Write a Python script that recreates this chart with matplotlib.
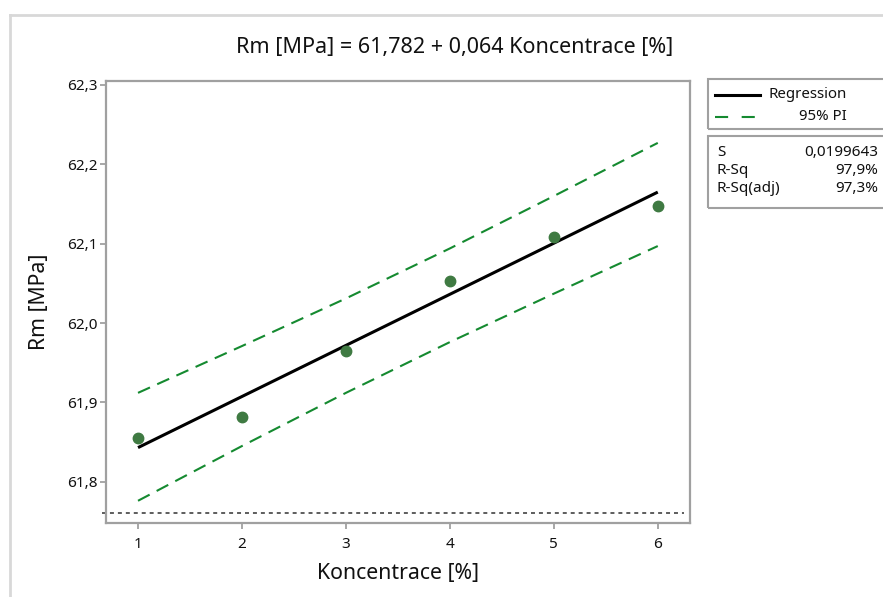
#! /usr/bin/env python3

import matplotlib
matplotlib.use("Agg")
import matplotlib.pyplot as plt
from matplotlib.patches import Rectangle
from matplotlib.lines import Line2D

plt.rcParams['font.family'] = ['Noto Sans', 'DejaVu Sans']

#--------- data ----------#

konc = [1, 2, 3, 4, 5, 6]
rm = [61.855, 61.881, 61.965, 62.053, 62.109, 62.148]

# fitted line and 95% prediction interval
fit_x = [1, 6]
fit_y = [61.843, 62.165]
pi_x = [1, 2, 3, 4, 5, 6]
pi_upper = [61.912, 61.971, 62.031, 62.094, 62.160, 62.227]
pi_lower = [61.776, 61.845, 61.912, 61.976, 62.037, 62.097]
ref_level = 61.761

xticks = [1, 2, 3, 4, 5, 6]
yticks = [61.8, 61.9, 62.0, 62.1, 62.2, 62.3]
ytick_labels = ["61,8", "61,9", "62,0", "62,1", "62,2", "62,3"]

title = "Rm [MPa] = 61,782 + 0,064 Koncentrace [%]"
stats_names = ["S", "R-Sq", "R-Sq(adj)"]
stats_vals = ["0,0199643", "97,9%", "97,3%"]

#----- plot -----#

W, H = 883, 597
fig = plt.figure(figsize=(W / 100, H / 100), dpi=100)

def fx(px):
	return px / W

def fy(py):
	return 1 - py / H

grey = "#a0a0a0"
green = "#158a30"
dot_col = "#3f7a42"
txt = "#111111"

ax = fig.add_axes([fx(106), fy(523), fx(690) - fx(106), fy(81) - fy(523)])
ax.set_xlim(0.692, 6.31)
ax.set_ylim(61.748, 62.305)

ax.plot(pi_x, pi_upper, color=green, lw=1.5, dashes=(6.3, 3.8))
ax.plot(pi_x, pi_lower, color=green, lw=1.5, dashes=(6.3, 3.8))
ax.plot(fit_x, fit_y, color="black", lw=2.2, solid_capstyle="butt")
ax.plot(konc, rm, "o", color=dot_col, ms=7.5, mec=dot_col)
ax.axhline(ref_level, xmin=-0.007, xmax=0.99, color="#505050", lw=1.3,
           dashes=(2.2, 2.2), clip_on=False)

ax.set_xticks(xticks)
ax.set_xticklabels([str(v) for v in xticks])
ax.set_yticks(yticks)
ax.set_yticklabels(ytick_labels)
for s in ax.spines.values():
	s.set_color(grey)
	s.set_linewidth(1.6)
ax.tick_params(colors=grey, labelcolor=txt, length=4, width=1.3,
               labelsize=11, pad=2)
ax.tick_params(axis="x", pad=6)

ax.set_xlabel("Koncentrace [%]", fontsize=15.3, color=txt)
ax.set_ylabel("Rm [MPa]", fontsize=15.3, color=txt)
ax.xaxis.set_label_coords(0.5, (523 - 573) / 442)
ax.yaxis.set_label_coords((40 - 106) / 584, 0.5)
ax.xaxis.label.set_va("center")
ax.yaxis.label.set_va("center")
fig.text(fx(455), fy(48), title, fontsize=15.5, color=txt,
         ha="center", va="center")

# outer frame of the graph window
fig.add_artist(Line2D([fx(10), fx(10)], [fy(15), fy(600)], color="#d8d8d8", lw=2))
fig.add_artist(Line2D([fx(10), fx(890)], [fy(15), fy(15)], color="#d8d8d8", lw=2))

# legend box
fig.add_artist(Rectangle((fx(708), fy(129)), fx(200), fy(79) - fy(129),
                         fill=False, ec=grey, lw=1.5))
fig.add_artist(Line2D([fx(715), fx(760)], [fy(95), fy(95)], color="black", lw=2.2))
fig.add_artist(Line2D([fx(715), fx(760)], [fy(117), fy(117)], color=green,
                      lw=1.5, dashes=(6.3, 6.5)))
fig.text(fx(847), fy(95), "Regression", fontsize=10.8, color=txt, ha="right", va="center")
fig.text(fx(847), fy(117), "95% PI", fontsize=10.8, color=txt, ha="right", va="center")

# stats box
fig.add_artist(Rectangle((fx(708), fy(208)), fx(200), fy(136) - fy(208),
                         fill=False, ec=grey, lw=1.5))
for i in range(len(stats_names)):
	yy = fy(152 + 18 * i)
	fig.text(fx(717), yy, stats_names[i], fontsize=11, color=txt, ha="left", va="center")
	fig.text(fx(878), yy, stats_vals[i], fontsize=11, color=txt, ha="right", va="center")

fig.savefig("out.png", dpi=100)
